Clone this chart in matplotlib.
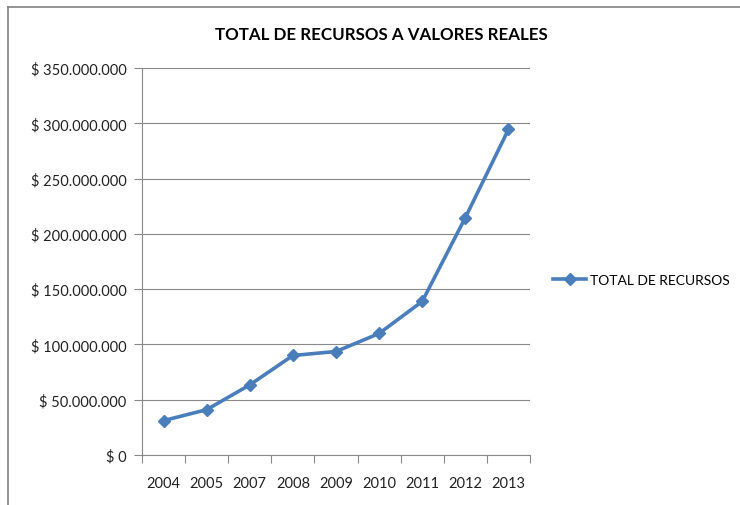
import matplotlib
matplotlib.use("Agg")
import matplotlib.pyplot as plt
from matplotlib.lines import Line2D

years = ["2004", "2005", "2007", "2008", "2009", "2010", "2011", "2012", "2013"]
totals = [31.1e6, 41.0e6, 63.4e6, 90.0e6, 93.6e6, 109.9e6, 138.9e6, 214.7e6, 294.4e6]
y_ticks = [0, 50e6, 100e6, 150e6, 200e6, 250e6, 300e6, 350e6]
y_labels = ["$ 0", "$ 50.000.000", "$ 100.000.000", "$ 150.000.000", "$ 200.000.000",
            "$ 250.000.000", "$ 300.000.000", "$ 350.000.000"]
series_name = "TOTAL DE RECURSOS"
title = "TOTAL DE RECURSOS A VALORES REALES"

plt.rcParams['font.family'] = ['Lato', 'DejaVu Sans']

W, H = 740, 506
fig = plt.figure(figsize=(W / 100, H / 100), dpi=100)
ax = fig.add_axes([142 / W, (H - 456) / H, (530 - 142) / W, (456 - 69) / H])

color = "#4A7EBB"
xs = list(range(len(years)))
ax.plot(xs, totals, color=color, lw=2.6, marker="D", ms=6.5, zorder=3)

ax.set_xlim(-0.5, len(years) - 0.5)
ax.set_ylim(0, 350e6)
ax.set_yticks(y_ticks)
ax.set_yticklabels(y_labels, fontsize=10.5, color="#222222")
ax.set_xticks(xs)
ax.set_xticklabels(years, fontsize=10.5, color="#222222")
ax.tick_params(axis="x", length=0, pad=15)
ax.tick_params(axis="y", length=6, color="#888888", width=0.8, pad=5)
# category boundary ticks
ax.set_xticks([i - 0.5 for i in range(len(years) + 1)], minor=True)
ax.tick_params(axis="x", which="minor", length=6, color="#888888", width=0.8)

ax.grid(axis="y", color="#888888", lw=0.8)
ax.set_axisbelow(True)
for s in ["top", "right"]:
    ax.spines[s].set_visible(False)
for s in ["left", "bottom"]:
    ax.spines[s].set_color("#888888")
    ax.spines[s].set_linewidth(0.8)

fig.text(381 / W, 1 - 35 / H, title, ha="center", va="center",
         fontsize=12.2, fontweight="bold", color="black")

handle = Line2D([0], [0], color=color, lw=2.6, marker="D", ms=6)
fig.legend([handle], [series_name], loc="center left",
           bbox_to_anchor=(553 / W, 1 - 281 / H), frameon=False,
           borderaxespad=0, borderpad=0,
           fontsize=10, handlelength=2.4, handletextpad=0.25)

# outer chart border (top and left visible)
fig.add_artist(Line2D([8 / W, 1], [1 - 8 / H, 1 - 8 / H], transform=fig.transFigure,
                      color="#808080", lw=1.2))
fig.add_artist(Line2D([8 / W, 8 / W], [0, 1 - 8 / H], transform=fig.transFigure,
                      color="#808080", lw=1.2))

fig.savefig("out.png", dpi=100)
